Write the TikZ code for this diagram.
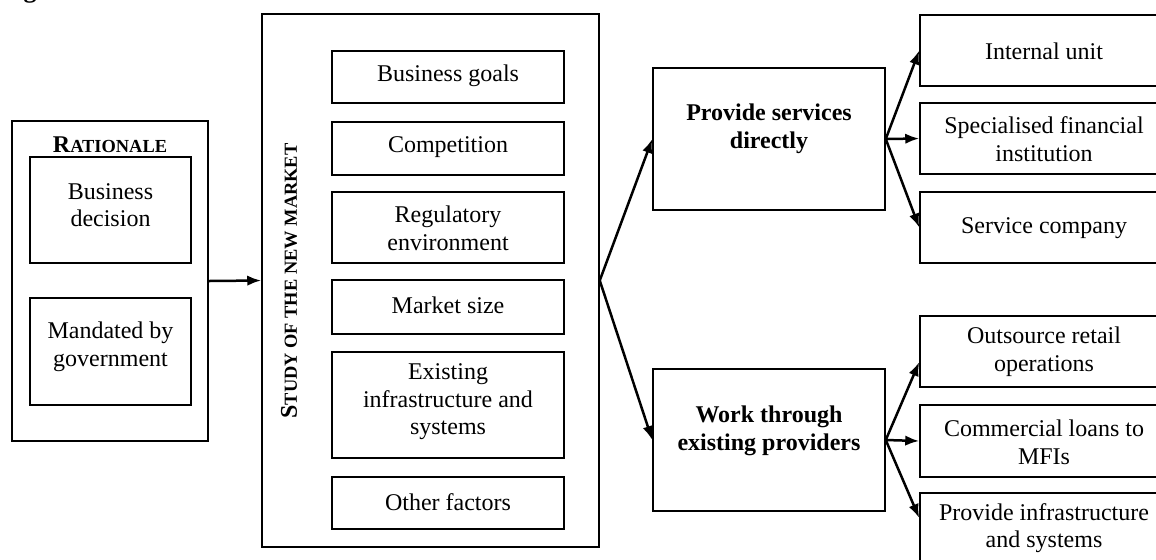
\documentclass[tikz,border=0pt]{standalone}
\usepackage{fontspec}
\setmainfont{Liberation Serif}
\usetikzlibrary{arrows.meta,fit}
\newcommand\smc[1]{{\fontsize{9.2}{10}\selectfont #1}}
% style, name, x1, y1, x2, y2, text y, text
\newcommand\tbox[8]{%
  \node[box, fit={(#3,#4)(#5,#6)}] (#2) {};
  \node[#1] (#2-t) at ({(#3+#5)/2},#7) {#8};}
\begin{document}
\begin{tikzpicture}[x=0.5pt,y=-0.5pt,
  box/.style={draw, line width=0.75pt, inner sep=0pt},
  txt/.style={inner sep=0pt, align=center, font=\fontsize{12}{13.8}\selectfont},
  btxt/.style={inner sep=0pt, align=center, font=\fontsize{12}{14}\selectfont\bfseries},
  arr/.style={line width=1.25pt, -{Latex[length=7pt,width=5.2pt]}}]
\useasboundingbox (0,0) rectangle (1156,559);

% clipped title fragment (only the descender of the g shows)
\node[anchor=base west, inner sep=0pt, font=\fontsize{13}{15}\selectfont\bfseries] (title) at (0,-2.5) {Figure};

% Rationale
\node[box, fit={(12,121)(208,441)}] (ra) {};
\node[btxt] (ra-t) at (110,145) {R\smc{ATIONALE}};
\tbox{txt}{bd}{30}{157}{191}{263}{205}{Business\\decision}
\tbox{txt}{mg}{30}{298}{191}{405}{347}{Mandated by\\government}

% Study of the new market
\node[box, fit={(262,14)(599,547)}] (st) {};
\node[btxt, rotate=90] (st-t) at (289,281) {S\smc{TUDY OF THE NEW MARKET}};
\tbox{txt}{bg}{332}{51}{564}{103}{76}{Business goals}
\tbox{txt}{cp}{332}{122}{564}{175}{147}{Competition}
\tbox{txt}{re}{332}{192}{564}{263}{228}{Regulatory\\environment}
\tbox{txt}{ms}{332}{280}{564}{334}{305}{Market size}
\tbox{txt}{ex}{332}{352}{564}{458}{402}{Existing\\infrastructure and\\systems}
\tbox{txt}{of}{332}{477}{564}{529}{502}{Other factors}

% Strategies
\tbox{btxt}{ps}{653}{68}{885}{210}{129}{Provide services\\directly}
\tbox{btxt}{wt}{653}{369}{885}{511}{431}{Work through\\existing providers}

% Options
\tbox{txt}{iu}{920}{15}{1168}{86}{51}{Internal unit}
\tbox{txt}{sf}{920}{103}{1168}{174}{139}{Specialised financial\\institution}
\tbox{txt}{sc}{920}{192}{1168}{263}{228}{Service company}
\tbox{txt}{ou}{920}{316}{1168}{387}{352}{Outsource retail\\operations}
\tbox{txt}{cl}{920}{405}{1168}{477}{442}{Commercial loans to\\MFIs}
\tbox{txt}{pi}{920}{493}{1168}{564}{528}{Provide infrastructure\\and systems}

% Connectors
\draw[arr] (ra.east) -- (st.west);
\draw[arr] (st.east) -- (ps.west);
\draw[arr] (st.east) -- (wt.west);
\draw[arr] (ps.east) -- (iu.west);
\draw[arr] (ps.east) -- (sf.west);
\draw[arr] (ps.east) -- (sc.west);
\draw[arr] (wt.east) -- (ou.west |- 0,362);
\draw[arr] (wt.east) -- (cl.west);
\draw[arr] (wt.east) -- (pi.west |- 0,518);
\end{tikzpicture}
\end{document}
